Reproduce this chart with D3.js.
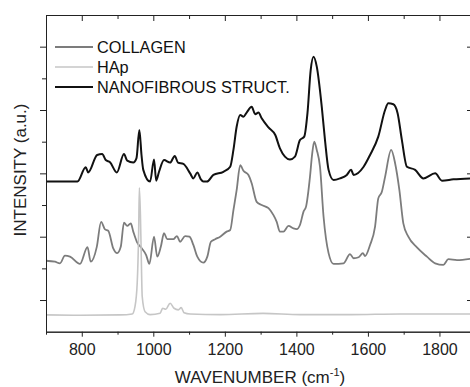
<!DOCTYPE html>
<html>
<head>
<meta charset="utf-8">
<script src="https://cdn.jsdelivr.net/npm/d3@7"></script>
<style>
  body { margin: 0; background: #fff; }
  text { font-family: "Liberation Sans", Arial, sans-serif; }
</style>
</head>
<body>
<div class="main-container"></div>
<script>
// raman spectra (wavenumber cm-1, intensity a.u.)
const seriesNames = ["COLLAGEN", "HAp", "NANOFIBROUS STRUCT."];

const collagenWn = [700, 725, 739, 753, 767, 795, 816, 825, 842, 854, 865, 874, 888, 899, 909, 918, 927, 937, 944, 954, 968, 980, 989, 1002, 1011, 1021, 1030, 1039, 1056, 1066, 1075, 1089, 1101, 1112, 1123, 1140, 1151, 1161, 1173, 1187, 1205, 1215, 1224, 1233, 1243, 1252, 1266, 1275, 1289, 1303, 1322, 1336, 1345, 1354, 1364, 1378, 1392, 1401, 1410, 1420, 1427, 1438, 1444, 1450, 1457, 1466, 1476, 1490, 1504, 1532, 1550, 1560, 1574, 1586, 1592, 1606, 1620, 1629, 1639, 1648, 1665, 1676, 1688, 1699, 1713, 1737, 1765, 1788, 1811, 1825, 1849, 1891];
const collagenI = [2.24, 2.21, 2.16, 2.40, 2.37, 2.14, 2.67, 2.21, 2.68, 3.47, 3.23, 3.19, 2.63, 2.48, 2.68, 3.44, 3.34, 3.42, 3.16, 2.84, 2.63, 2.42, 2.14, 3.00, 2.37, 2.68, 3.11, 2.92, 2.92, 3.02, 2.84, 3.02, 3.00, 2.74, 2.37, 2.18, 2.37, 2.84, 2.92, 3.00, 3.16, 3.21, 3.84, 4.47, 5.26, 5.08, 4.95, 4.69, 4.10, 4.00, 3.90, 3.68, 3.47, 3.16, 3.16, 3.34, 3.26, 3.24, 3.37, 3.79, 3.95, 4.89, 5.60, 6.00, 5.74, 5.21, 3.63, 2.48, 2.14, 2.16, 2.45, 2.32, 2.35, 2.48, 2.39, 2.74, 3.32, 4.21, 4.42, 4.89, 5.74, 5.32, 4.47, 3.42, 3.00, 2.66, 2.37, 2.16, 2.11, 2.29, 2.26, 2.31];

const hapWn = [700, 795, 907, 941, 949, 955, 959, 961, 964, 966, 969, 977, 991, 1019, 1026, 1035, 1047, 1058, 1070, 1078, 1086, 1103, 1187, 1307, 1410, 1550, 1690, 1891];
const hapI = [0.53, 0.52, 0.53, 0.56, 0.81, 1.54, 3.12, 4.54, 3.68, 2.58, 1.11, 0.63, 0.54, 0.58, 0.74, 0.71, 0.90, 0.74, 0.69, 0.76, 0.60, 0.56, 0.54, 0.58, 0.54, 0.54, 0.56, 0.56];

const nanoWn = [700, 739, 788, 811, 818, 843, 857, 867, 879, 898, 918, 927, 944, 953, 961, 967, 972, 991, 1002, 1008, 1016, 1030, 1047, 1060, 1069, 1084, 1103, 1112, 1123, 1133, 1140, 1150, 1168, 1196, 1215, 1224, 1233, 1243, 1252, 1261, 1275, 1285, 1294, 1303, 1322, 1341, 1354, 1368, 1382, 1396, 1410, 1422, 1431, 1440, 1448, 1457, 1471, 1480, 1490, 1504, 1522, 1541, 1553, 1560, 1588, 1606, 1629, 1648, 1657, 1671, 1683, 1695, 1709, 1732, 1755, 1788, 1807, 1839, 1891];
const nanoI = [4.74, 4.74, 4.74, 5.19, 5.03, 5.58, 5.61, 5.42, 5.35, 5.03, 5.61, 5.40, 5.34, 5.48, 6.37, 5.58, 5.11, 4.74, 5.44, 4.77, 5.05, 5.42, 5.34, 5.55, 5.34, 5.30, 5.00, 4.84, 5.03, 4.81, 4.74, 4.74, 4.95, 5.05, 5.21, 5.74, 6.47, 6.84, 6.79, 6.92, 7.10, 6.87, 6.92, 6.74, 6.45, 6.21, 5.79, 5.53, 5.44, 5.53, 6.05, 6.16, 6.90, 8.26, 8.68, 8.37, 7.10, 6.05, 5.11, 4.79, 4.84, 4.95, 5.11, 4.95, 5.21, 5.58, 6.16, 7.00, 7.21, 7.18, 6.90, 6.05, 5.21, 5.11, 4.84, 5.00, 4.77, 4.81, 4.84];

const xMajorTicks = [800, 1000, 1200, 1400, 1600, 1800];
const xMinorTicks = [700, 900, 1100, 1300, 1500, 1700];
const yMajorTicks = [1, 3, 5, 7, 9];
const yMinorTicks = [2, 4, 6, 8];

const width = 470;
const height = 387;
const plotLeft = 46, plotRight = 472, plotTop = 15, plotBottom = 331.7;

const svg = d3.select(".main-container")
    .append("svg")
    .attr("width", width)
    .attr("height", height);

const x = d3.scaleLinear().domain([700, 1891]).range([plotLeft, plotRight]);
const y = d3.scaleLinear().domain([0, 10]).range([plotBottom, plotTop]);

const line = d3.line()
    .x(d => x(d[0]))
    .y(d => y(d[1]))
    .curve(d3.curveMonotoneX);

const series = [
    { name: seriesNames[0], wn: collagenWn, val: collagenI, color: "#7c7c7c", w: 1.8 },
    { name: seriesNames[1], wn: hapWn, val: hapI, color: "#c6c6c6", w: 1.6 },
    { name: seriesNames[2], wn: nanoWn, val: nanoI, color: "#111", w: 2 }
];

// curves
series.forEach(s => {
    svg.append("path")
        .datum(s.wn.map((w, i) => [w, s.val[i]]))
        .attr("fill", "none")
        .attr("stroke", s.color)
        .attr("stroke-width", s.w)
        .attr("stroke-linejoin", "round")
        .attr("d", line);
});

// axes
const styleAxis = g => {
    g.selectAll("path, line").attr("stroke", "#222").attr("stroke-width", 1);
};

svg.append("g").attr("transform", `translate(0,${plotBottom})`)
    .call(d3.axisBottom(x).tickValues(xMajorTicks).tickSize(5).tickSizeOuter(0).tickFormat(d3.format("d")))
    .call(styleAxis)
    .call(g => g.selectAll("text").attr("font-size", 16).attr("fill", "#222")
        .attr("font-family", "Liberation Sans, Arial, sans-serif").attr("y", 12));
svg.append("g").attr("transform", `translate(0,${plotBottom})`)
    .call(d3.axisBottom(x).tickValues(xMinorTicks).tickSize(3).tickSizeOuter(0).tickFormat(""))
    .call(styleAxis);

svg.append("g").attr("transform", `translate(0,${plotTop})`)
    .call(d3.axisTop(x).tickValues(xMajorTicks).tickSize(-6).tickSizeOuter(0).tickFormat(""))
    .call(styleAxis);
svg.append("g").attr("transform", `translate(0,${plotTop})`)
    .call(d3.axisTop(x).tickValues(xMinorTicks).tickSize(-4).tickSizeOuter(0).tickFormat(""))
    .call(styleAxis);

svg.append("g").attr("transform", `translate(${plotLeft},0)`)
    .call(d3.axisLeft(y).tickValues(yMajorTicks).tickSize(6).tickSizeOuter(0).tickFormat(""))
    .call(styleAxis);
svg.append("g").attr("transform", `translate(${plotLeft},0)`)
    .call(d3.axisLeft(y).tickValues(yMinorTicks).tickSize(4).tickSizeOuter(0).tickFormat(""))
    .call(styleAxis);

svg.append("g").attr("transform", `translate(${plotRight},0)`)
    .call(d3.axisRight(y).tickValues(yMajorTicks).tickSize(-5).tickSizeOuter(0).tickFormat(""))
    .call(styleAxis);

// axis titles
const xt = svg.append("text")
    .attr("x", 260).attr("y", 383)
    .attr("text-anchor", "middle")
    .attr("font-size", 17).attr("fill", "#222");
xt.append("tspan").text("WAVENUMBER (cm");
xt.append("tspan").attr("font-size", 11).attr("dy", -7).text("-1");
xt.append("tspan").attr("dy", 7).text(")");

svg.append("text")
    .attr("transform", "translate(26,170) rotate(-90)")
    .attr("text-anchor", "middle")
    .attr("font-size", 17).attr("fill", "#222")
    .text("INTENSITY (a.u.)");

// legend
series.forEach((s, i) => {
    const ly = 47 + i * 20;
    svg.append("line")
        .attr("x1", 55).attr("x2", 93)
        .attr("y1", ly).attr("y2", ly)
        .attr("stroke", s.color).attr("stroke-width", s.w);
    svg.append("text")
        .attr("x", 97).attr("y", ly + 5.5)
        .attr("font-size", 16.3).attr("fill", "#111")
        .text(s.name);
});
</script>
</body>
</html>
